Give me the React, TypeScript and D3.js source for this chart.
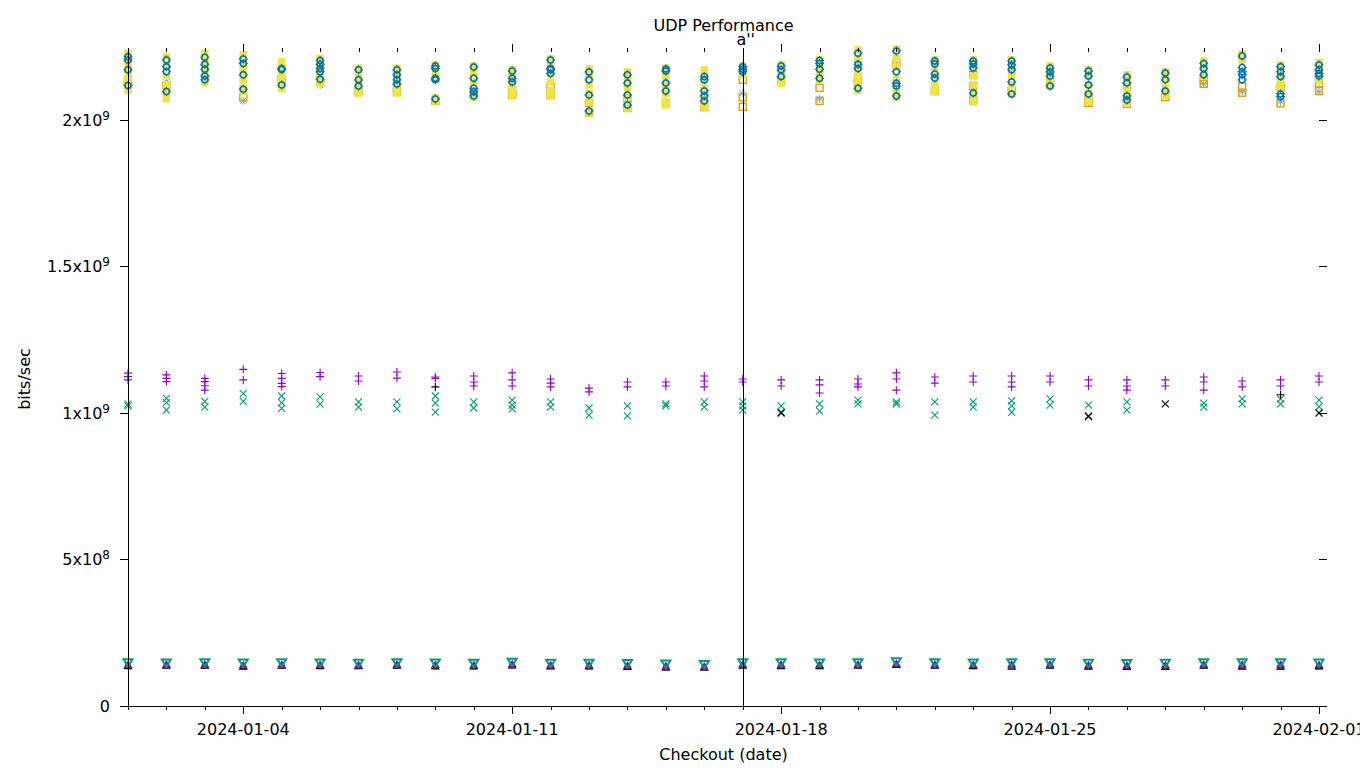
import * as d3 from "d3";

// categories: one checkout per day
const days = d3.utcDay.range(new Date(Date.UTC(2024, 0, 1)), new Date(Date.UTC(2024, 1, 2)));
const majorTicks = ["2024-01-04", "2024-01-11", "2024-01-18", "2024-01-25", "2024-02-01"];
const yTicks = [0, 5e8, 1e9, 1.5e9, 2e9];
const yTickLabels: [string, string][] = [["0", ""], ["5x10", "8"], ["1x10", "9"], ["1.5x10", "9"], ["2x10", "9"]];
const markerDate = "2024-01-17";
const markerLabel = "a''";

// values in 1e9 bits/sec
const purplePlus = [
  [1.136, 1.124, 1.113], [1.13, 1.118, 1.107], [1.118, 1.107, 1.093, 1.078], [1.149, 1.113],
  [1.135, 1.118, 1.101, 1.09], [1.138, 1.124], [1.126, 1.109], [1.14, 1.119],
  [1.123, 1.118], [1.126, 1.106, 1.092], [1.137, 1.113, 1.092], [1.116, 1.102, 1.089],
  [1.085, 1.072], [1.106, 1.089], [1.106, 1.092], [1.126, 1.109, 1.089],
  [1.116, 1.106], [1.113, 1.092], [1.113, 1.096, 1.068], [1.116, 1.099, 1.089],
  [1.137, 1.116, 1.078], [1.123, 1.102], [1.126, 1.106], [1.126, 1.106, 1.089],
  [1.126, 1.106], [1.113, 1.092], [1.113, 1.092, 1.078], [1.113, 1.092],
  [1.123, 1.106, 1.078], [1.109, 1.089], [1.113, 1.092], [1.126, 1.106],
];
const greenCross = [
  [1.03, 1.024], [1.05, 1.035, 1.01], [1.04, 1.02], [1.066, 1.04],
  [1.058, 1.035, 1.016], [1.055, 1.03], [1.038, 1.02], [1.038, 1.014],
  [1.058, 1.034, 1.003], [1.038, 1.017], [1.044, 1.027, 1.014], [1.038, 1.02],
  [1.017, 0.993], [1.024, 0.99], [1.031, 1.024], [1.038, 1.02],
  [1.038, 1.024, 1.01], [1.024, 1.003], [1.031, 1.007], [1.044, 1.031],
  [1.038, 1.031], [1.038, 0.993], [1.038, 1.02], [1.041, 1.024, 1.003],
  [1.048, 1.027], [1.027, 0.99], [1.038, 1.01], [],
  [1.034, 1.02], [1.048, 1.031], [1.048, 1.031], [1.044, 1.022],
];
const blackPlus = [
  [], [], [], [], [], [], [], [], [1.089], [], [], [], [], [], [], [],
  [], [], [], [], [], [], [], [], [], [], [], [], [], [], [1.062], [],
];
const blackCross = [
  [], [], [], [], [], [], [], [], [], [], [], [], [], [], [], [],
  [], [1.0], [], [], [], [], [], [], [], [0.988], [], [1.031], [], [], [], [1.0],
];
const lightBlueStar = [
  [2.125], [2.131], [2.14], [2.065], [2.142], [2.119], [2.095], [2.1],
  [2.07], [2.09], [2.171, 2.085], [2.099], [2.06], [2.061], [2.061], [2.05],
  [2.091], [2.14], [2.072], [2.196, 2.136], [2.2], [2.105], [2.085], [2.16],
  [2.125], [2.061], [2.14], [2.082], [2.123], [2.097], [2.062], [2.133, 2.097],
];
const orangeSquare = [
  [2.13, 2.12], [2.119], [], [2.077], [2.139], [2.13], [2.099], [2.109, 2.096],
  [2.065], [2.09], [2.099, 2.085], [2.113, 2.085], [2.058, 2.024], [2.072, 2.041], [2.058], [2.044],
  [2.137, 2.077, 2.045], [2.135], [2.11, 2.065], [2.142, 2.131], [2.193], [2.099], [2.154, 2.116, 2.068], [2.1],
  [2.13], [2.072, 2.058], [2.116, 2.055], [2.078], [2.137, 2.123], [2.114, 2.093], [2.114, 2.057], [2.125, 2.099],
];
const yellowSquare = [
  [2.227, 2.2, 2.175, 2.15, 2.125, 2.102], [2.216, 2.19, 2.15, 2.12, 2.095, 2.073],
  [2.227, 2.2, 2.18, 2.16, 2.14, 2.127], [2.222, 2.19, 2.165, 2.135, 2.108, 2.097],
  [2.199, 2.18, 2.16, 2.14, 2.108], [2.21, 2.185, 2.16, 2.14, 2.125],
  [2.177, 2.155, 2.13, 2.11, 2.092], [2.177, 2.155, 2.135, 2.115, 2.092],
  [2.188, 2.165, 2.14, 2.075, 2.065], [2.184, 2.16, 2.13, 2.1, 2.078],
  [2.171, 2.15, 2.125, 2.105, 2.085], [2.208, 2.185, 2.16, 2.13, 2.1, 2.082],
  [2.174, 2.15, 2.12, 2.09, 2.06, 2.024], [2.164, 2.14, 2.11, 2.08, 2.05, 2.041],
  [2.177, 2.15, 2.12, 2.09, 2.06, 2.051], [2.171, 2.15, 2.12, 2.09, 2.06, 2.044],
  [2.184, 2.17, 2.155], [2.188, 2.17, 2.15, 2.126],
  [2.205, 2.185, 2.165, 2.14], [2.239, 2.21, 2.18, 2.15, 2.125, 2.102],
  [2.242, 2.21, 2.18, 2.14, 2.1, 2.078], [2.205, 2.18, 2.15, 2.12, 2.096],
  [2.205, 2.18, 2.15, 2.12, 2.09, 2.061], [2.205, 2.18, 2.15, 2.12, 2.089],
  [2.184, 2.16, 2.14, 2.116], [2.171, 2.15, 2.12, 2.09, 2.065],
  [2.154, 2.13, 2.1, 2.075, 2.06], [2.164, 2.14, 2.11, 2.085],
  [2.199, 2.175, 2.15], [2.225, 2.205],
  [2.188, 2.165, 2.14, 2.114], [2.196, 2.175, 2.15, 2.137],
];
const blueCircle = [
  [2.216, 2.205, 2.171, 2.118], [2.205, 2.182, 2.165, 2.097], [2.214, 2.19, 2.173, 2.15, 2.137],
  [2.208, 2.193, 2.154, 2.105], [2.176, 2.172, 2.119], [2.203, 2.19, 2.176, 2.165, 2.139],
  [2.171, 2.137, 2.116], [2.171, 2.154, 2.137, 2.123], [2.184, 2.176, 2.142, 2.137, 2.072],
  [2.181, 2.142, 2.108, 2.096, 2.082], [2.167, 2.142, 2.13], [2.205, 2.176, 2.171, 2.159],
  [2.164, 2.137, 2.085, 2.031], [2.154, 2.126, 2.085, 2.051], [2.174, 2.167, 2.126, 2.099],
  [2.148, 2.137, 2.099, 2.082, 2.065], [2.182, 2.173, 2.165], [2.184, 2.171, 2.148],
  [2.203, 2.193, 2.173, 2.142], [2.228, 2.19, 2.176, 2.108], [2.235, 2.165, 2.125, 2.116, 2.082],
  [2.201, 2.191, 2.157, 2.143], [2.201, 2.191, 2.177, 2.092], [2.201, 2.188, 2.171, 2.13, 2.089],
  [2.177, 2.164, 2.15, 2.116], [2.167, 2.15, 2.119, 2.089], [2.147, 2.126, 2.082, 2.068],
  [2.16, 2.137, 2.099], [2.193, 2.176, 2.154], [2.218, 2.179, 2.165, 2.154, 2.137],
  [2.182, 2.165, 2.148, 2.089, 2.08], [2.188, 2.171, 2.159, 2.15],
];

// values in 1e8 bits/sec
const redDot = [1.36, 1.37, 1.37, 1.34, 1.37, 1.36, 1.36, 1.37, 1.36, 1.35, 1.37, 1.36, 1.35, 1.34, 1.33, 1.32,
  1.37, 1.37, 1.36, 1.37, 1.4, 1.37, 1.36, 1.37, 1.37, 1.35, 1.34, 1.35, 1.37, 1.36, 1.35, 1.36];
const blackTriangle = [1.38, 1.39, 1.39, 1.36, 1.39, 1.38, 1.38, 1.39, 1.37, 1.37, 1.4, 1.37, 1.37, 1.35, 1.33, 1.33,
  1.39, 1.38, 1.38, 1.39, 1.42, 1.39, 1.38, 1.36, 1.39, 1.36, 1.35, 1.35, 1.39, 1.36, 1.36, 1.37];
const purpleTriangle = [1.42, 1.43, 1.43, 1.41, 1.42, 1.42, 1.41, 1.43, 1.42, 1.41, 1.44, 1.41, 1.41, 1.4, 1.37, 1.36,
  1.43, 1.43, 1.42, 1.43, 1.46, 1.43, 1.42, 1.43, 1.43, 1.41, 1.4, 1.41, 1.43, 1.43, 1.43, 1.42];
const greenTriangle = [1.48, 1.47, 1.48, 1.47, 1.48, 1.47, 1.46, 1.48, 1.47, 1.46, 1.49, 1.46, 1.46, 1.45, 1.43, 1.42,
  1.48, 1.48, 1.47, 1.48, 1.51, 1.48, 1.47, 1.48, 1.48, 1.46, 1.45, 1.46, 1.48, 1.48, 1.48, 1.47];

type Shape = "plus" | "cross" | "star" | "square" | "fsquare" | "circle" | "dot" | "tri" | "ftri" | "tridown";

const FONT = "DejaVu Sans, sans-serif";
const W = 1360;
const H = 768;

const x = d3.scaleUtc().domain([new Date(Date.UTC(2024, 0, 1)), new Date(Date.UTC(2024, 1, 1))]).range([128, 1319]);
const y = d3.scaleLinear().domain([0, 2.232e9]).range([706, 52]);

function Marker({ shape, cx, cy, color }: { shape: Shape; cx: number; cy: number; color: string }) {
  const s = 4;
  switch (shape) {
    case "plus":
      return <path d={`M${cx - s},${cy}H${cx + s}M${cx},${cy - s}V${cy + s}`} stroke={color} strokeWidth={1.1} fill="none" />;
    case "cross":
      return <path d={`M${cx - 3.5},${cy - 3.5}L${cx + 3.5},${cy + 3.5}M${cx - 3.5},${cy + 3.5}L${cx + 3.5},${cy - 3.5}`} stroke={color} strokeWidth={1.1} fill="none" />;
    case "star":
      return <path d={`M${cx - s},${cy}H${cx + s}M${cx},${cy - s}V${cy + s}M${cx - 3},${cy - 3}L${cx + 3},${cy + 3}M${cx - 3},${cy + 3}L${cx + 3},${cy - 3}`} stroke={color} strokeWidth={1} fill="none" />;
    case "square":
      return <rect x={cx - 3.5} y={cy - 3.5} width={7} height={7} stroke={color} strokeWidth={1.4} fill="none" />;
    case "fsquare":
      return <rect x={cx - 3.8} y={cy - 3.8} width={7.6} height={7.6} fill={color} />;
    case "circle":
      return (
        <g stroke={color} fill="none">
          <circle cx={cx} cy={cy} r={3} strokeWidth={1.5} />
          <path d={`M${cx - 4.5},${cy}H${cx - 3}M${cx + 3},${cy}H${cx + 4.5}M${cx},${cy - 4.5}V${cy - 3}M${cx},${cy + 3}V${cy + 4.5}`} strokeWidth={1.2} />
        </g>
      );
    case "dot":
      return <circle cx={cx} cy={cy} r={3} fill={color} />;
    case "tri":
      return <path d={`M${cx},${cy - 3.5}L${cx + 3.5},${cy + 3}L${cx - 3.5},${cy + 3}Z`} stroke={color} strokeWidth={1.2} fill="none" />;
    case "ftri":
      return <path d={`M${cx},${cy - 4}L${cx + 4.5},${cy + 3.5}L${cx - 4.5},${cy + 3.5}Z`} fill={color} />;
    case "tridown":
      return <path d={`M${cx},${cy + 4}L${cx + 4.5},${cy - 3.5}L${cx - 4.5},${cy - 3.5}Z`} stroke={color} strokeWidth={2} fill="none" />;
  }
}

type Series = { shape: Shape; color: string; unit: number; values: number[][] };

const series: Series[] = [
  { shape: "plus", color: "#9400d3", unit: 1e9, values: purplePlus },
  { shape: "cross", color: "#009e73", unit: 1e9, values: greenCross },
  { shape: "star", color: "#56b4e9", unit: 1e9, values: lightBlueStar },
  { shape: "square", color: "#e69f00", unit: 1e9, values: orangeSquare },
  { shape: "fsquare", color: "#f0e442", unit: 1e9, values: yellowSquare },
  { shape: "circle", color: "#0072b2", unit: 1e9, values: blueCircle },
  { shape: "dot", color: "#e51e10", unit: 1e8, values: redDot.map((v) => [v]) },
  { shape: "tri", color: "#000000", unit: 1e8, values: blackTriangle.map((v) => [v]) },
  { shape: "ftri", color: "#9400d3", unit: 1e8, values: purpleTriangle.map((v) => [v]) },
  { shape: "tridown", color: "#009e73", unit: 1e8, values: greenTriangle.map((v) => [v]) },
  { shape: "plus", color: "#000000", unit: 1e9, values: blackPlus },
  { shape: "cross", color: "#000000", unit: 1e9, values: blackCross },
];

const parse = d3.utcParse("%Y-%m-%d");
const fmt = d3.utcFormat("%Y-%m-%d");

export default function App() {
  const x0 = x.range()[0];
  const x1 = x.range()[1];
  const y0 = y.range()[0];
  const yTop = y.range()[1];
  const majorSet = new Set(majorTicks);
  const mx = x(parse(markerDate)!);

  return (
    <svg width={W} height={H} style={{ position: "absolute", left: 0, top: 0, background: "#fff" }} fontFamily={FONT}>
      <rect width={W} height={H} fill="#fff" />
      {/* points */}
      {series.map((s, si) => (
        <g key={si}>
          {s.values.map((vals, di) =>
            vals.map((v, vi) => (
              <Marker key={`${di}-${vi}`} shape={s.shape} cx={x(days[di])} cy={y(v * s.unit)} color={s.color} />
            ))
          )}
        </g>
      ))}

      {/* marker line */}
      <line x1={Math.round(mx) + 0.5} x2={Math.round(mx) + 0.5} y1={yTop} y2={y0} stroke="#000" strokeWidth={1} />
      <text x={mx + 3} y={45} fontSize={16} textAnchor="middle" fill="#000">{markerLabel}</text>

      {/* border */}
      <g stroke="#000" strokeWidth={1} shapeRendering="crispEdges">
        <line x1={x0 + 0.5} x2={x0 + 0.5} y1={yTop} y2={y0 + 0.5} />
        <line x1={x0} x2={x1 + 0.5} y1={y0 + 0.5} y2={y0 + 0.5} />
        {days.map((d, i) => {
          const major = majorSet.has(fmt(d));
          const px = Math.round(x(d)) + 0.5;
          const len = major ? 8 : 4;
          return (
            <g key={i}>
              <line x1={px} x2={px} y1={y0} y2={y0 + len} />
              <line x1={px} x2={px} y1={yTop} y2={yTop - len} />
            </g>
          );
        })}
        {yTicks.map((t, i) => {
          const py = Math.round(y(t)) + 0.5;
          return (
            <g key={i}>
              <line x1={x0 - 8} x2={x0} y1={py} y2={py} />
              <line x1={x1} x2={x1 + 8} y1={py} y2={py} />
            </g>
          );
        })}
      </g>

      {/* tick labels */}
      <g fontSize={16} fill="#000">
        {majorTicks.map((t) => (
          <text key={t} x={x(parse(t)!)} y={735} textAnchor="middle">{t}</text>
        ))}
        {yTicks.map((t, i) => (
          <text key={i} x={110} y={y(t) + 6} textAnchor="end">
            {yTickLabels[i][0]}
            {yTickLabels[i][1] && (
              <tspan fontSize={12} dy={-6}>{yTickLabels[i][1]}</tspan>
            )}
          </text>
        ))}
      </g>

      {/* titles */}
      <text x={(x0 + x1) / 2} y={31} fontSize={16} textAnchor="middle">UDP Performance</text>
      <text x={(x0 + x1) / 2} y={760} fontSize={16} textAnchor="middle">Checkout (date)</text>
      <text transform={`translate(30,${(yTop + y0) / 2}) rotate(-90)`} fontSize={16} textAnchor="middle">bits/sec</text>
    </svg>
  );
}
